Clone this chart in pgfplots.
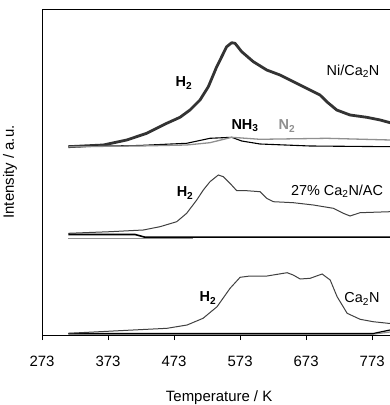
\documentclass[border=0pt]{standalone}
\usepackage{pgfplots}
\pgfplotsset{compat=1.18}
\usepackage{fontspec}
\setmainfont{Liberation Sans}
\definecolor{dk}{HTML}{333333}
\definecolor{md}{HTML}{404040}
\definecolor{gr}{HTML}{909090}
\begin{document}
\begin{tikzpicture}
\useasboundingbox (-42bp,-70bp) rectangle (348bp,335bp);
\begin{axis}[
  scale only axis, width=348bp, height=326bp,
  xmin=273, xmax=800, ymin=0, ymax=326,
  xtick={273,373,473,573,673,773},
  ytick=\empty,
  tick align=outside, xtick pos=bottom,
  major tick length=5bp,
  axis line style={line width=0.8pt},
  tick style={line width=0.8pt, black},
  /pgf/number format/assume math mode=true,
  /pgf/number format/1000 sep={},
  xticklabel style={font=\fontsize{15}{17}\selectfont, yshift=-13bp},
  xlabel={Temperature / K},
  ylabel={Intensity / a.u.},
  xlabel style={font=\fontsize{15}{17}\selectfont, at={(axis description cs:0.509,-0.192)}, anchor=center},
  ylabel style={font=\fontsize{15}{17}\selectfont, at={(axis description cs:-0.092,0.5)}, anchor=center},
  clip=true,
]
% Ni/Ca2N H2
\addplot[dk, line width=2.8bp, line join=round] coordinates {
(312.8,188.3) (365.8,190) (401.3,195) (431.6,201.7) (461.9,211.7) (482.0,217.7)
(497.1,225) (512.3,235) (524.9,248.3) (537.6,268.3) (552.7,288.3) (560.3,292.3)
(565.3,291.7) (575.4,283.3) (593.0,273.3) (613.3,265) (633.4,260) (653.6,253.3)
(678.9,245) (694.0,240) (704.2,233.3) (719.3,225) (739.5,220) (764.8,217.7)
(785.1,215) (800.2,212.3)};
% NH3
\addplot[black, line width=1.1bp] coordinates {
(312.8,188.3) (420,189.5) (492.1,191.7) (527.4,196.7) (560.3,197.7) (575.4,194)
(603.2,191) (678.9,189) (800.2,188.3)};
% N2
\addplot[gr, line width=1.3bp] coordinates {
(312.8,188.3) (420,189) (492.1,190) (527.4,192.3) (560.3,197.7) (603.2,195.7)
(704.2,196.7) (800.2,195)};
% 27% Ca2N/AC H2
\addplot[md, line width=1bp] coordinates {
(312.8,101.7) (376.0,103.3) (426.4,105) (451.7,108.3) (477.0,113.3) (492.1,121.7)
(507.3,135) (517.3,145) (527.4,153.3) (540.0,160) (547.6,158.3) (557.7,151.7)
(567.9,144.3) (583.0,144.3) (603.2,143.3) (613.3,136.7) (623.3,133.3) (653.6,132.3)
(683.9,130) (714.2,126.7) (729.3,121.7) (739.5,119) (754.6,122.3) (800.2,123.3)};
\addplot[gr, line width=1.2bp] coordinates {(312.8,96.2) (501.7,96.2)};
\addplot[black, line width=1.6bp] coordinates {(312.8,100.5) (413.9,100.5) (429,97.8) (800.2,97.8)};
% Ca2N
\addplot[gr, line width=1.2bp] coordinates {(312.8,0.8) (774.5,0.8) (800.2,3)};
\addplot[black, line width=1.2bp] coordinates {(312.8,1.5) (774.5,1.5) (800.2,5)};
\addplot[md, line width=1bp] coordinates {
(312.8,1.7) (410.9,5) (462.4,6.7) (492.7,10) (516.9,16.7) (538.1,28.3) (557.8,46.7)
(573,57.7) (588.2,59) (613.9,59) (644.2,62.3) (653.3,60) (663.9,56) (679.1,56.7)
(697.2,61) (709.4,55) (719.9,38.3) (735.1,21.7) (754.8,15.7) (774.5,13.3) (797.2,11.7) (800.2,11.5)};
% labels
\begin{scope}[font=\fontsize{14.5}{16}\selectfont]
\node at (axis cs:488,252) {\textbf{H\textsubscript{2}}};
\node at (axis cs:744,264) {Ni/Ca\textsubscript{2}N};
\node at (axis cs:580.4,209) {\textbf{NH\textsubscript{3}}};
\node[text=gr] at (axis cs:644,209) {\textbf{N\textsubscript{2}}};
\node at (axis cs:489.6,142) {\textbf{H\textsubscript{2}}};
\node at (axis cs:719.8,144) {27\% Ca\textsubscript{2}N/AC};
\node at (axis cs:524.4,37) {\textbf{H\textsubscript{2}}};
\node at (axis cs:757.6,36) {Ca\textsubscript{2}N};
\end{scope}
\end{axis}
\end{tikzpicture}
\end{document}
